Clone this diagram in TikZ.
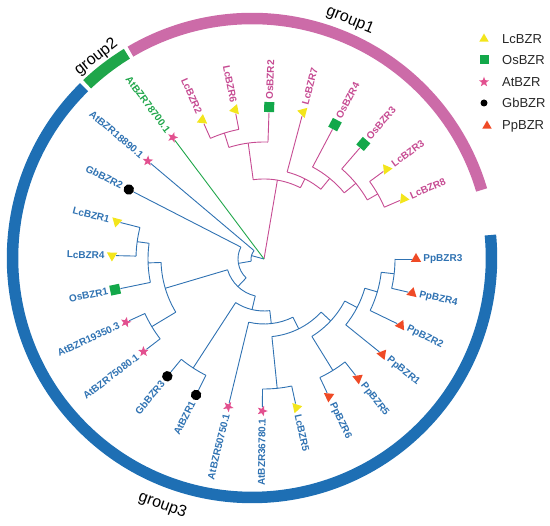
\documentclass[tikz,border=0pt]{standalone}
\usepackage{fontspec}
\setmainfont{Liberation Sans}
\usetikzlibrary{shapes.geometric}

\definecolor{grpone}{HTML}{C64B92}
\definecolor{grponering}{HTML}{CC6BA8}
\definecolor{grptwo}{HTML}{1FA64A}
\definecolor{grpthree}{HTML}{2F72B2}
\definecolor{grpthreering}{HTML}{1E6FB4}
\definecolor{lcyellow}{HTML}{F3E51C}
\definecolor{osgreen}{HTML}{13A84A}
\definecolor{atpink}{HTML}{E2508F}
\definecolor{ppred}{HTML}{EF4A26}

\tikzset{
  lcsym/.style={regular polygon, regular polygon sides=3, fill=lcyellow, inner sep=0pt, minimum size=12pt},
  ppsym/.style={regular polygon, regular polygon sides=3, fill=ppred, inner sep=0pt, minimum size=12pt},
  ossym/.style={rectangle, fill=osgreen, inner sep=0pt, minimum size=10pt},
  atsym/.style={star, star points=5, star point ratio=2.4, fill=atpink, inner sep=0pt, minimum size=11pt},
  gbsym/.style={circle, fill=black, inner sep=0pt, minimum size=10.5pt},
  leaflabel/.style={font=\bfseries\fontsize{10}{11}\selectfont, inner sep=0pt},
  grouplabel/.style={font=\fontsize{16}{18}\selectfont, inner sep=0pt},
  legendlabel/.style={font=\fontsize{13}{15}\selectfont, text=black!85, anchor=west, inner sep=0pt},
  branch/.style={line width=0.9pt},
  ring/.style={line width=11.5pt},
}

% arc of a clade: start angle, end angle, radius
\newcommand\carc[3]{\draw (#1:#3) arc[start angle=#1, end angle=#2, radius=#3];}
% stem of a clade: angle, inner radius, outer radius
\newcommand\cstem[3]{\draw (#1:#2) -- (#1:#3);}
% leaf: name, angle, parent radius, symbol, colour, text
\newcommand\leaf[6]{%
  \node[#4, rotate=#2] (#1) at (#2:152) {};
  \draw[#5] (#2:#3) -- (#1);
  \pgfmathtruncatemacro\flip{cos(#2)<0}%
  \ifnum\flip=1
    \node[leaflabel, text=#5, anchor=east, rotate=#2+180] (#1-t) at (#2:159) {#6};
  \else
    \node[leaflabel, text=#5, anchor=west, rotate=#2] (#1-t) at (#2:159) {#6};
  \fi}

\begin{document}
\begin{tikzpicture}[x=1pt, y=1pt]
\useasboundingbox (0,0) rectangle (550,526);

% outer ring with the groups
\begin{scope}[shift={(252,268)}]
  \draw[ring, grponering] (16.5:239.5) arc[start angle=16.5, end angle=120.5, radius=239.5];
  \draw[ring, grptwo] (121.5:239.5) arc[start angle=121.5, end angle=133.5, radius=239.5];
  \draw[ring, grpthreering] (134.5:239.5) arc[start angle=134.5, end angle=365.5, radius=239.5];
  \node[grouplabel, rotate=-22.4] (group1) at (67.6:257) {group1};
  \node[grouplabel, rotate=37.8] (group2) at (127.8:254) {group2};
  \node[grouplabel, rotate=-19.9] (group3) at (250.1:263) {group3};
\end{scope}

% tree
\begin{scope}[shift={(264,267)}, branch]
  % group1
  \begin{scope}[grpone]
    \cstem{-279.64}{0}{80}
    \carc{-262.24}{-297.04}{80}
    \cstem{-262.24}{80}{117}
    \carc{-252.525}{-271.95}{117}
    \cstem{-252.525}{117}{132}
    \carc{-246.05}{-259}{132}
    \cstem{-297.04}{80}{90}
    \carc{-284.9}{-309.18}{90}
    \cstem{-309.18}{90}{104}
    \carc{-297.85}{-320.51}{104}
    \cstem{-320.51}{104}{119}
    \carc{-310.8}{-330.225}{119}
    \cstem{-330.225}{119}{131}
    \carc{-323.75}{-336.7}{131}
  \end{scope}
  % group3
  \begin{scope}[grpthree]
    \cstem{-195.2}{0}{13}
    \carc{-220.15}{-170.3}{13}
    \cstem{-170.3}{13}{26}
    \carc{-207.2}{-133.4}{26}
    \cstem{-133.4}{26}{38}
    \carc{-163.49}{-103.3}{38}
    \cstem{-163.49}{38}{103}
    \carc{-178.06}{-148.925}{103}
    \cstem{-178.06}{103}{116}
    \carc{-168.35}{-187.775}{116}
    \cstem{-187.775}{116}{128}
    \carc{-181.3}{-194.25}{128}
    \cstem{-148.925}{103}{131}
    \carc{-155.4}{-142.45}{131}
    \cstem{-103.3}{38}{52}
    \carc{-123.025}{-83.57}{52}
    \cstem{-123.025}{52}{130}
    \carc{-129.5}{-116.55}{130}
    \cstem{-83.57}{52}{65}
    \carc{-103.6}{-63.54}{65}
    \cstem{-63.54}{65}{78}
    \carc{-84.175}{-42.9}{78}
    \cstem{-84.175}{78}{130}
    \carc{-90.65}{-77.7}{130}
    \cstem{-42.9}{78}{91}
    \carc{-58.275}{-27.52}{91}
    \cstem{-58.275}{91}{131}
    \carc{-64.75}{-51.8}{131}
    \cstem{-27.52}{91}{105}
    \carc{-38.85}{-16.19}{105}
    \cstem{-16.19}{105}{118}
    \carc{-25.9}{-6.475}{118}
    \cstem{-6.475}{118}{131}
    \carc{-12.95}{0}{131}
  \end{scope}

  % leaves
  \leaf{PpBZR3}{0}{131}{ppsym}{grpthree}{PpBZR3}
  \leaf{PpBZR4}{-12.95}{131}{ppsym}{grpthree}{PpBZR4}
  \leaf{PpBZR2}{-25.9}{118}{ppsym}{grpthree}{PpBZR2}
  \leaf{PpBZR1}{-38.85}{105}{ppsym}{grpthree}{PpBZR1}
  \leaf{PpBZR5}{-51.8}{131}{ppsym}{grpthree}{PpBZR5}
  \leaf{PpBZR6}{-64.75}{131}{ppsym}{grpthree}{PpBZR6}
  \leaf{LcBZR5}{-77.7}{130}{lcsym}{grpthree}{LcBZR5}
  \leaf{At36780}{-90.65}{130}{atsym}{grpthree}{AtBZR36780.1}
  \leaf{At50750}{-103.6}{65}{atsym}{grpthree}{AtBZR50750.1}
  \leaf{AtBZR1}{-116.55}{130}{gbsym}{grpthree}{AtBZR1}
  \leaf{GbBZR3}{-129.5}{130}{gbsym}{grpthree}{GbBZR3}
  \leaf{At75080}{-142.45}{131}{atsym}{grpthree}{AtBZR75080.1}
  \leaf{At19350}{-155.4}{131}{atsym}{grpthree}{AtBZR19350.3}
  \leaf{OsBZR1}{-168.35}{116}{ossym}{grpthree}{OsBZR1}
  \leaf{LcBZR4}{-181.3}{128}{lcsym}{grpthree}{LcBZR4}
  \leaf{LcBZR1}{-194.25}{128}{lcsym}{grpthree}{LcBZR1}
  \leaf{GbBZR2}{-207.2}{26}{gbsym}{grpthree}{GbBZR2}
  \leaf{At18890}{-220.15}{13}{atsym}{grpthree}{AtBZR18890.1}
  \leaf{At78700}{-233.1}{0}{atsym}{grptwo}{AtBZR78700.1}
  \leaf{LcBZR2}{-246.05}{132}{lcsym}{grpone}{LcBZR2}
  \leaf{LcBZR6}{-259}{132}{lcsym}{grpone}{LcBZR6}
  \leaf{OsBZR2}{-271.95}{117}{ossym}{grpone}{OsBZR2}
  \leaf{LcBZR7}{-284.9}{90}{lcsym}{grpone}{LcBZR7}
  \leaf{OsBZR4}{-297.85}{104}{ossym}{grpone}{OsBZR4}
  \leaf{OsBZR3}{-310.8}{119}{ossym}{grpone}{OsBZR3}
  \leaf{LcBZR3}{-323.75}{131}{lcsym}{grpone}{LcBZR3}
  \leaf{LcBZR8}{-336.7}{131}{lcsym}{grpone}{LcBZR8}
\end{scope}

% legend
\node[lcsym, minimum size=11pt] (key-lc) at (484,487) {};
\node[legendlabel] (key-lc-t) at (502,487) {LcBZR};
\node[ossym, minimum size=9pt] (key-os) at (484,466) {};
\node[legendlabel] (key-os-t) at (502,466) {OsBZR};
\node[atsym, minimum size=10.5pt] (key-at) at (484,444) {};
\node[legendlabel] (key-at-t) at (502,444) {AtBZR};
\node[gbsym, minimum size=7pt] (key-gb) at (484,423) {};
\node[legendlabel] (key-gb-t) at (502,423) {GbBZR};
\node[ppsym, minimum size=11pt] (key-pp) at (487,400) {};
\node[legendlabel] (key-pp-t) at (502,400) {PpBZR};
\end{tikzpicture}
\end{document}
